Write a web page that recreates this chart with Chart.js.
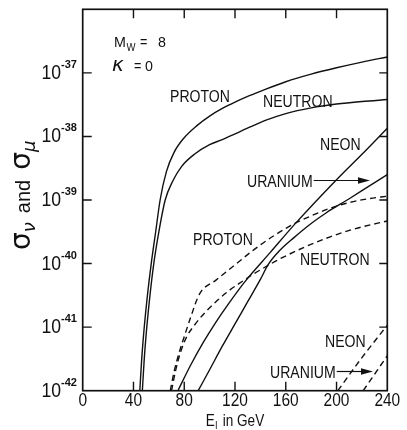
<!DOCTYPE html>
<html>
<head>
<meta charset="utf-8">
<script src="https://cdn.jsdelivr.net/npm/chart.js@4/dist/chart.umd.min.js"></script>
<style>
  html, body { margin: 0; padding: 0; background: #fff; }
  canvas { display: block; }
</style>
</head>
<body>
<canvas id="c" width="407" height="430"></canvas>
<script>
// ---- tick labels ----
const xTickValues = [0, 40, 80, 120, 160, 200, 240];
const yDecadeExponents = [-42, -41, -40, -39, -38, -37];

// ---- series: E (GeV) and log10 of cross-section (cm^2) ----
const protonSolidE   = [45, 46.5, 48.5, 51, 54, 57.5, 61, 66, 72, 80, 90, 100, 110, 120, 130, 140, 160, 180, 200, 220, 240];
const protonSolidLog = [-42, -41.5, -41, -40.5, -40, -39.5, -39, -38.55, -38.25, -38.02, -37.83, -37.68, -37.56, -37.46, -37.37, -37.29, -37.14, -37.02, -36.92, -36.83, -36.75];

const neutronSolidE   = [47, 48.5, 50.5, 53, 56, 60, 65, 71, 78, 88, 100, 110, 120, 132, 145, 160, 180, 200, 220, 240];
const neutronSolidLog = [-42, -41.5, -41, -40.5, -40, -39.5, -39, -38.7, -38.47, -38.28, -38.13, -38.05, -37.96, -37.85, -37.74, -37.64, -37.55, -37.49, -37.45, -37.42];

const neonSolidE   = [75, 85, 95, 105, 115, 128, 148, 168, 200, 224, 240];
const neonSolidLog = [-42, -41.6, -41.24, -40.92, -40.63, -40.28, -39.82, -39.36, -38.68, -38.2, -37.87];

const uraniumSolidE   = [91, 100, 110, 120, 130, 140, 146, 155, 166, 180, 192, 210, 225, 240];
const uraniumSolidLog = [-42, -41.67, -41.3, -40.95, -40.6, -40.25, -40.02, -39.8, -39.6, -39.37, -39.2, -38.98, -38.79, -38.6];

const protonDashE   = [69, 72, 76, 80, 85, 92, 105, 120, 135, 150, 166, 180, 195, 210, 225, 240];
const protonDashLog = [-42, -41.7, -41.4, -41.15, -40.85, -40.48, -40.26, -40.02, -39.78, -39.57, -39.38, -39.25, -39.13, -39.04, -38.98, -38.94];

const neutronDashE   = [70, 73, 77, 82, 88, 95, 105, 115, 125, 135, 146, 155, 175, 195, 215, 240];
const neutronDashLog = [-42, -41.7, -41.4, -41.15, -40.97, -40.8, -40.6, -40.43, -40.29, -40.16, -40.03, -39.93, -39.74, -39.58, -39.45, -39.33];

const neonDashE   = [201, 220, 240];
const neonDashLog = [-42, -41.48, -40.97];

const uraniumDashE   = [221, 240];
const uraniumDashLog = [-42, -41.45];

function pts(E, L) { return E.map((e, i) => ({ x: e, y: Math.pow(10, L[i]) })); }

const INK = '#111111';
function ds(label, E, L, dashed) {
  return {
    label, data: pts(E, L),
    borderColor: INK, borderWidth: 1.4, pointRadius: 0,
    borderDash: dashed ? [6, 4] : [],
    cubicInterpolationMode: 'monotone', fill: false
  };
}

const FONT = '"Liberation Sans", Arial, sans-serif';

function condText(ctx, str, x, y, size, sx, align) {
  ctx.save();
  ctx.font = size + 'px ' + FONT;
  const w = ctx.measureText(str).width * sx;
  let lx = x;
  if (align === 'center') lx = x - w / 2;
  else if (align === 'right') lx = x - w;
  ctx.translate(lx, y);
  ctx.scale(sx, 1);
  ctx.textAlign = 'left';
  ctx.textBaseline = 'alphabetic';
  ctx.fillText(str, 0, 0);
  ctx.restore();
  return w;
}

function arrow(ctx, x1, x2, y) {
  ctx.save();
  ctx.strokeStyle = INK; ctx.fillStyle = INK; ctx.lineWidth = 1.2;
  ctx.beginPath(); ctx.moveTo(x1, y); ctx.lineTo(x2 - 8, y); ctx.stroke();
  ctx.beginPath(); ctx.moveTo(x2, y); ctx.lineTo(x2 - 12, y - 3.2); ctx.lineTo(x2 - 12, y + 3.2); ctx.closePath(); ctx.fill();
  ctx.restore();
}

const decor = {
  id: 'decor',
  afterDraw(chart) {
    const ctx = chart.ctx, a = chart.chartArea;
    const xs = chart.scales.x, ys = chart.scales.y;
    ctx.save();
    ctx.fillStyle = INK; ctx.strokeStyle = INK;
    // frame
    ctx.lineWidth = 1.7;
    ctx.strokeRect(a.left, a.top, a.right - a.left, a.bottom - a.top);
    // ticks
    ctx.lineWidth = 1.4;
    ctx.beginPath();
    xTickValues.forEach(v => {
      if (v <= 0 || v >= 240) return;
      const px = xs.getPixelForValue(v);
      ctx.moveTo(px, a.bottom); ctx.lineTo(px, a.bottom - 9);
      ctx.moveTo(px, a.top); ctx.lineTo(px, a.top + 9);
    });
    yDecadeExponents.forEach(e => {
      if (e === -42) return;
      const py = ys.getPixelForValue(Math.pow(10, e));
      ctx.moveTo(a.left, py); ctx.lineTo(a.left + 9, py);
      ctx.moveTo(a.right, py); ctx.lineTo(a.right - 8, py);
    });
    ctx.stroke();

    // x tick labels
    xTickValues.forEach(v => {
      condText(ctx, String(v), xs.getPixelForValue(v), 405.5, 18, 0.86, 'center');
    });
    // y tick labels 10^e
    yDecadeExponents.forEach(e => {
      const py = ys.getPixelForValue(Math.pow(10, e));
      condText(ctx, '10', 61, py + 6, 20, 0.88, 'right');
      ctx.save();
      ctx.font = 'bold 11px ' + FONT;
      ctx.textAlign = 'left';
      ctx.fillText(String(e), 61, py - 5);
      ctx.restore();
    });

    // x axis title: E_l in GeV (centred under the axis)
    {
      const y = 426, S = 16, SX = 0.85;
      ctx.font = S + 'px ' + FONT;
      const wE = ctx.measureText('E').width * SX;
      const wRest = ctx.measureText(' in GeV').width * SX;
      ctx.font = '11px ' + FONT;
      const wl = ctx.measureText('l').width * SX + 2;
      let x = (a.left + a.right) / 2 - (wE + wl + wRest) / 2;
      condText(ctx, 'E', x, y, S, SX, 'left'); x += wE;
      condText(ctx, 'l', x + 0.5, y + 3, 11, SX, 'left'); x += wl;
      condText(ctx, ' in GeV', x, y, S, SX, 'left');
    }
    // y axis title: sigma_nu and sigma_mu (rotated)
    ctx.save();
    ctx.translate(30, 250);
    ctx.rotate(-Math.PI / 2);
    ctx.textAlign = 'left'; ctx.textBaseline = 'alphabetic';
    let t = 0;
    ctx.font = '28px "DejaVu Sans", sans-serif';
    ctx.fillText('σ', t, 0); t += ctx.measureText('σ').width;
    ctx.font = 'italic 18px "DejaVu Sans", sans-serif';
    ctx.fillText('ν', t, 5); t += ctx.measureText('ν').width + 9;
    ctx.font = '20px ' + FONT;
    ctx.fillText('and', t, 0); t += ctx.measureText('and').width + 10;
    ctx.font = '28px "DejaVu Sans", sans-serif';
    ctx.fillText('σ', t, 0); t += ctx.measureText('σ').width;
    ctx.font = 'italic 18px "DejaVu Sans", sans-serif';
    ctx.fillText('μ', t, 5);
    ctx.restore();

    // parameters
    condText(ctx, 'M', 114, 47, 15, 0.95, 'left');
    condText(ctx, 'W', 126.5, 50.5, 10, 0.95, 'left');
    condText(ctx, '=', 140, 47, 14, 0.9, 'left');
    condText(ctx, '8', 158, 47, 15, 0.95, 'left');
    ctx.save();
    ctx.font = 'italic 20px "DejaVu Sans", sans-serif';
    ctx.fillText('κ', 112, 71);
    ctx.restore();
    condText(ctx, '=', 134, 71, 14, 0.9, 'left');
    condText(ctx, '0', 145, 71, 15, 0.95, 'left');

    // curve labels
    const S = 16, SX = 0.88;
    condText(ctx, 'PROTON', 170, 102, S, SX, 'left');
    condText(ctx, 'NEUTRON', 263, 106.5, S, SX, 'left');
    condText(ctx, 'NEON', 320, 150, S, SX, 'left');
    const wU = condText(ctx, 'URANIUM', 247, 186.5, S, SX, 'left');
    arrow(ctx, 247 + wU + 1, 370, 180.5);
    condText(ctx, 'PROTON', 193, 245, S, SX, 'left');
    condText(ctx, 'NEUTRON', 300, 265, S, SX, 'left');
    condText(ctx, 'NEON', 325, 347, S, SX, 'left');
    const wU2 = condText(ctx, 'URANIUM', 270, 377.5, S, SX, 'left');
    arrow(ctx, 270 + wU2 + 1, 373, 371.5);
    ctx.restore();
  }
};

new Chart(document.getElementById('c'), {
  type: 'line',
  data: {
    datasets: [
      ds('Proton', protonSolidE, protonSolidLog, false),
      ds('Neutron', neutronSolidE, neutronSolidLog, false),
      ds('Neon', neonSolidE, neonSolidLog, false),
      ds('Uranium', uraniumSolidE, uraniumSolidLog, false),
      ds('Proton (dashed)', protonDashE, protonDashLog, true),
      ds('Neutron (dashed)', neutronDashE, neutronDashLog, true),
      ds('Neon (dashed)', neonDashE, neonDashLog, true),
      ds('Uranium (dashed)', uraniumDashE, uraniumDashLog, true)
    ]
  },
  options: {
    responsive: false,
    animation: false,
    devicePixelRatio: 1,
    layout: { padding: { left: 82.7, right: 19.7, top: 9.3, bottom: 39.3 } },
    plugins: { legend: { display: false }, tooltip: { enabled: false } },
    scales: {
      x: { type: 'linear', min: 0, max: 240, display: false },
      y: { type: 'logarithmic', min: 1e-42, max: 1e-36, display: false }
    }
  },
  plugins: [decor]
});
</script>
</body>
</html>
